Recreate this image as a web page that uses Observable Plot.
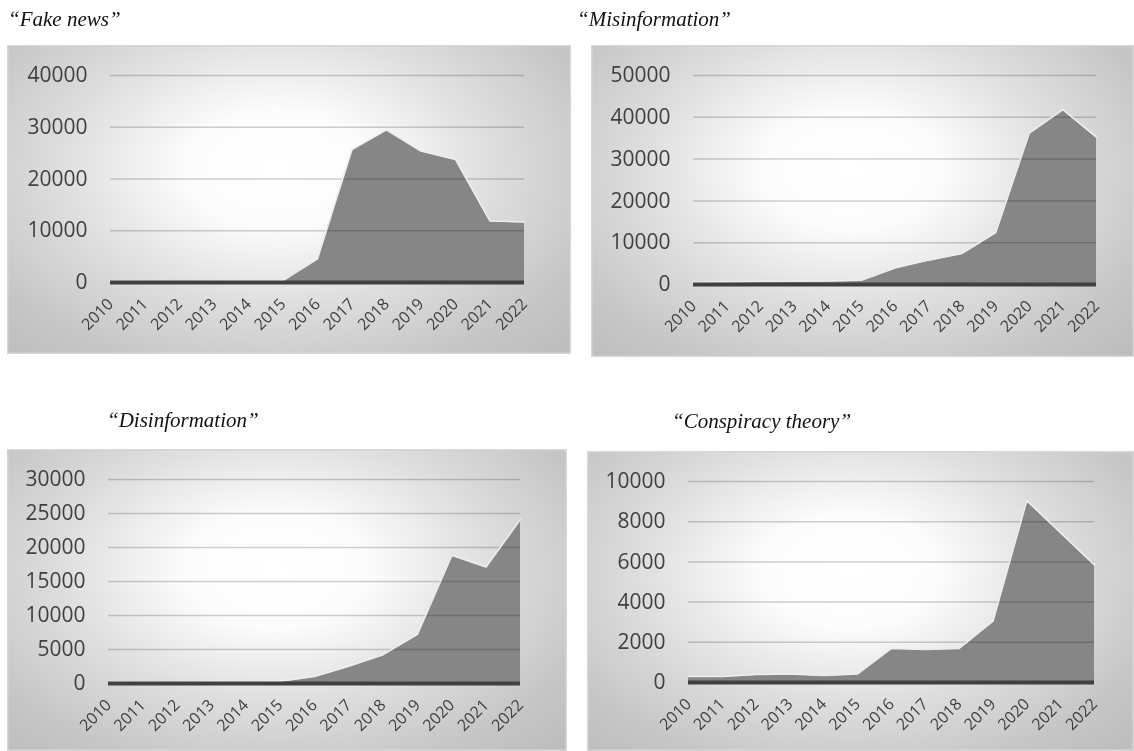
<!DOCTYPE html>
<html>
<head>
<meta charset="utf-8">
<script src="https://cdn.jsdelivr.net/npm/d3@7"></script>
<script src="https://cdn.jsdelivr.net/npm/@observablehq/plot@0.6"></script>
<style>
  html, body { margin: 0; padding: 0; background: #fff; }
  body { width: 1134px; height: 751px; position: relative; overflow: hidden; }
  .title { position: absolute; font-family: "Liberation Serif", "Times New Roman", serif; font-style: italic; font-size: 21px; color: #111; white-space: pre; line-height: 1; }
  .box { position: absolute; box-sizing: border-box;
         background: radial-gradient(ellipse farthest-corner at 48% 40%, #ffffff 0%, #fcfcfc 22%, #dedede 52%, #c6c6c6 80%, #bcbcbc 100%);
         box-shadow: inset 0 0 0 1.5px #d6d6d6; }
  .box svg { position: absolute; left: 0; top: 0; }
</style>
</head>
<body>
<script>
// ---- data ----
const years = [2010, 2011, 2012, 2013, 2014, 2015, 2016, 2017, 2018, 2019, 2020, 2021, 2022];
const fakeNews       = [30, 30, 30, 30, 30, 200, 4400, 25500, 29300, 25200, 23600, 11700, 11500];
const misinformation = [300, 400, 500, 550, 600, 800, 3700, 5600, 7200, 12200, 36000, 41600, 35000];
const disinformation = [50, 60, 80, 100, 120, 200, 900, 2400, 4100, 7100, 18700, 17000, 24000];
const conspiracy     = [250, 250, 350, 380, 300, 380, 1650, 1600, 1650, 3000, 9000, 7400, 5800];

const titles = ["\u201CFake news\u201D", "\u201CMisinformation\u201D", "\u201CDisinformation\u201D", "\u201CConspiracy theory\u201D"];
const yTicksFake = [0, 10000, 20000, 30000, 40000];
const yTicksMis  = [0, 10000, 20000, 30000, 40000, 50000];
const yTicksDis  = [0, 5000, 10000, 15000, 20000, 25000, 30000];
const yTicksCon  = [0, 2000, 4000, 6000, 8000, 10000];

// ---- layout ----
const panels = [
  {title: titles[0], values: fakeNews, ticks: yTicksFake, tx: 8, ty: 9,
   left: 7, top: 45, w: 564, h: 309, ml: 103, mr: 47, mt: 30, mb: 72},
  {title: titles[1], values: misinformation, ticks: yTicksMis, tx: 577, ty: 9,
   left: 591, top: 45, w: 543, h: 312, ml: 102, mr: 38, mt: 30, mb: 73},
  {title: titles[2], values: disinformation, ticks: yTicksDis, tx: 107, ty: 410,
   left: 7, top: 449, w: 560, h: 302, ml: 101, mr: 47, mt: 30, mb: 68},
  {title: titles[3], values: conspiracy, ticks: yTicksCon, tx: 672, ty: 411,
   left: 587, top: 451, w: 547, h: 300, ml: 101, mr: 40, mt: 30, mb: 69}
];

for (const p of panels) {
  const t = document.createElement("div");
  t.className = "title";
  t.style.left = p.tx + "px";
  t.style.top = p.ty + "px";
  t.textContent = p.title;
  document.body.appendChild(t);

  const data = years.map((year, i) => ({year, value: p.values[i]}));
  const box = document.createElement("div");
  box.className = "box";
  box.style.left = p.left + "px";
  box.style.top = p.top + "px";
  box.style.width = p.w + "px";
  box.style.height = p.h + "px";

  const chart = Plot.plot({
    width: p.w,
    height: p.h,
    marginLeft: p.ml,
    marginRight: p.mr,
    marginTop: p.mt,
    marginBottom: p.mb,
    style: {background: "transparent", fontFamily: "'Open Sans', sans-serif", color: "#404040", overflow: "visible"},
    x: {domain: [years[0], years[years.length - 1]]},
    y: {domain: [0, p.ticks[p.ticks.length - 1]]},
    marks: [
      Plot.areaY(data, {x: "year", y: "value", fill: "#868686"}),
      Plot.gridY(p.ticks.slice(1), {stroke: "#d0d0d0", strokeOpacity: 1, strokeWidth: 1.5, mixBlendMode: "multiply"}),
      Plot.lineY(data, {x: "year", y: "value", stroke: "#ededed", strokeWidth: 1.6, dy: -1}),
      Plot.ruleY([0], {stroke: "#404040", strokeWidth: 4}),
      Plot.axisY(p.ticks, {tickSize: 0, tickPadding: 23, fontSize: 21, fill: "#404040", tickFormat: d => String(d), label: null}),
      Plot.axisX(years, {tickSize: 0, tickPadding: 19, tickRotate: -45, tickFormat: d => String(d), fontSize: 16, fill: "#404040", label: null})
    ]
  });
  box.appendChild(chart);
  document.body.appendChild(box);
}
</script>
</body>
</html>
